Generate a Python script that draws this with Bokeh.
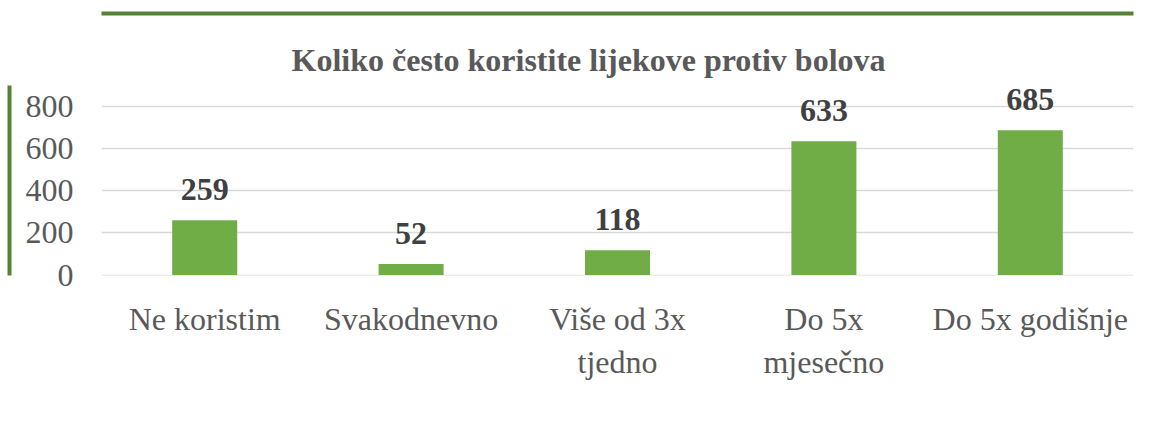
from bokeh.plotting import figure
from bokeh.models import (ColumnDataSource, LabelSet, Range1d, FixedTicker, Legend, LegendItem,
                          LinearAxis, CategoricalAxis, Title)
from bokeh.embed import file_html
from bokeh.resources import INLINE

categories = ["Ne koristim", "Svakodnevno", "Više od 3x\ntjedno", "Do 5x\nmjesečno", "Do 5x godišnje"]
values = [259, 52, 118, 633, 685]
value_labels = [str(v) for v in values]
y_ticks = [0, 200, 400, 600, 800]
title_text = "Koliko često koristite lijekove protiv bolova"
series_name = "Ukupan broj ispitanika (N=1747)"

FONT = "Liberation Serif"
GRAY = "#595959"
BAR = "#70AD47"
EDGE = "#548235"

src = ColumnDataSource(dict(cat=categories, val=values, lab=value_labels))

p = figure(x_range=categories, y_range=Range1d(-2, 897),
           frame_width=1032, frame_height=190,
           min_border_left=101, min_border_right=19, min_border_top=85, min_border_bottom=170,
           output_backend="svg", toolbar_location=None, title=None)

main_title = Title(text=title_text, text_font=FONT, text_font_size="32px", text_font_style="bold",
                   text_color=GRAY, align="left", offset=190, standoff=15)
p.add_layout(main_title, "above")

r = p.vbar(x="cat", top="val", width=0.315, source=src, fill_color=BAR, line_color=None)

labels = LabelSet(x="cat", y="val", text="lab", source=src, text_align="center",
                  text_baseline="alphabetic", y_offset=20, text_font=FONT,
                  text_font_size="32px", text_font_style="bold", text_color="#404040")
p.add_layout(labels)

p.outline_line_color = None
p.xgrid.grid_line_color = None
p.ygrid.grid_line_color = "#D9D9D9"
p.ygrid.grid_line_width = 1.3
p.yaxis.ticker = FixedTicker(ticks=y_ticks)

for ax in (p.xaxis, p.yaxis):
    ax.axis_line_color = None
    ax.major_tick_line_color = None
    ax.minor_tick_line_color = None
    ax.major_label_text_font = FONT
    ax.major_label_text_font_size = "32px"
    ax.major_label_text_color = GRAY
    ax.major_tick_in = 0
    ax.major_tick_out = 0
p.yaxis.major_label_standoff = 28
p.yaxis.axis_label = " "
p.yaxis.axis_label_text_font_size = "9px"
p.yaxis.axis_label_standoff = 0
p.xaxis.major_label_standoff = 25

legend = Legend(items=[LegendItem(label=series_name, renderers=[r])],
                location="top_center", orientation="horizontal",
                label_text_font=FONT, label_text_font_size="32px", label_text_color=GRAY,
                glyph_width=17, glyph_height=17, label_standoff=8,
                border_line_color=None, background_fill_alpha=0, margin=14, padding=4)
p.add_layout(legend, "below")

# chart-area border (left and top edges, as in the reference)
p.extra_y_ranges = {"edge": Range1d(0, 1)}
p.add_layout(Title(text=" ", text_font_size="16px", standoff=0), "above")

top_edge = CategoricalAxis(axis_line_color=EDGE, axis_line_width=4,
                           major_tick_line_color=None, minor_tick_line_color=None,
                           major_label_overrides={c: "" for c in categories},
                           major_label_text_font_size="1px", major_label_text_color=None,
                           major_label_standoff=0)
left_edge = LinearAxis(y_range_name="edge", bounds=(-1.0, 1.386), ticker=FixedTicker(ticks=[]),
                       axis_line_color=EDGE, axis_line_width=4,
                       major_tick_line_color=None, minor_tick_line_color=None,
                       major_label_text_font_size="1px", major_label_standoff=0)
p.add_layout(top_edge, "above")
p.add_layout(left_edge, "left")

open("out.html", "w").write(file_html(p, INLINE))
